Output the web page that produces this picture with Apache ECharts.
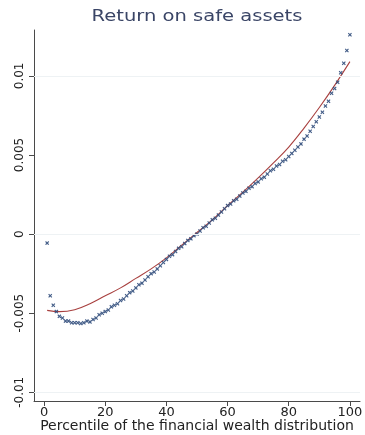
<!DOCTYPE html>
<html>
<head>
<meta charset="utf-8">
<script src="https://cdn.jsdelivr.net/npm/echarts@6/dist/echarts.min.js"></script>
<style>
  html, body { margin: 0; padding: 0; background: #ffffff; }
  #chart { width: 365px; height: 435px; }
</style>
</head>
<body>
<div id="chart"></div>
<script>
// Mean return on safe assets by percentile of financial wealth (1..100)
const safeReturn = [
  -0.00057, -0.0039, -0.0045, -0.0049, -0.0052, -0.0053, -0.0055, -0.0055, -0.0056, -0.0056,
  -0.0056, -0.00565, -0.0056, -0.0055, -0.00555, -0.0054, -0.0053, -0.0051, -0.0050, -0.0049,
  -0.0048, -0.0046, -0.0045, -0.0044, -0.0042, -0.0041, -0.0039, -0.0037, -0.0036, -0.0034,
  -0.0032, -0.0031, -0.0029, -0.0027, -0.0025, -0.0024, -0.0022, -0.0020, -0.0018, -0.0016,
  -0.0014, -0.0013, -0.0011, -0.0009, -0.0008, -0.0006, -0.0004, -0.0003, -0.0001, 0.0000,
  0.0002, 0.0004, 0.0005, 0.0007, 0.0009, 0.0010, 0.0012, 0.0014, 0.0016, 0.0018,
  0.0019, 0.0021, 0.0022, 0.0024, 0.0026, 0.0027, 0.0029, 0.0030, 0.0032, 0.0033,
  0.0035, 0.0036, 0.0038, 0.0040, 0.0041, 0.0043, 0.0044, 0.0046, 0.0047, 0.0049,
  0.0051, 0.0053, 0.0055, 0.0057, 0.0060, 0.0062, 0.0065, 0.0068, 0.0071, 0.0074,
  0.0077, 0.0081, 0.0084, 0.0089, 0.0092, 0.0096, 0.0102, 0.0108, 0.0116, 0.0126
];

// Fitted curve, sampled along the percentile axis
const fitPercentiles = [1, 5, 10, 15, 20, 25, 30, 35, 40, 45, 50, 55, 60, 65, 70, 75, 80, 85, 90, 95, 100];
const fitValues = [
  -0.00482, -0.0049, -0.00478, -0.0044, -0.0039, -0.0034, -0.0028, -0.0022, -0.0015, -0.0007,
  0.0001, 0.0009, 0.0018, 0.00265, 0.00355, 0.0045, 0.0055, 0.0067, 0.0080, 0.0094, 0.0109
];

// Axis ticks and labels
const xTicks = [0, 20, 40, 60, 80, 100];
const yTicks = [-0.01, -0.005, 0, 0.005, 0.01];
const yTickLabels = ['-0.01', '-0.005', '0', '0.005', '0.01'];
const yGridLines = [-0.005, 0, 0.005, 0.01];

const chartTitle = 'Return on safe assets';
const xTitle = 'Percentile of the financial wealth distribution';

const scatterData = safeReturn.map((v, i) => [i + 1, v]);
const fitData = fitPercentiles.map((p, i) => [p, fitValues[i]]);

const crossSymbol = 'path://M0,2L2,0L5,3L8,0L10,2L7,5L10,8L8,10L5,7L2,10L0,8L3,5Z';
const axisColor = '#4a4a4a';
const labelFont = '"DejaVu Sans", "Liberation Sans", sans-serif';

const chart = echarts.init(document.getElementById('chart'), null, { renderer: 'canvas' });

chart.setOption({
  backgroundColor: '#ffffff',
  animation: false,
  graphic: [{
    type: 'text',
    x: 197,
    y: 17,
    scaleX: 1.22,
    style: {
      text: chartTitle,
      font: '16px "DejaVu Sans", sans-serif',
      fill: '#3a4566',
      align: 'center',
      verticalAlign: 'middle'
    }
  }],
  grid: { left: 34, right: 5, top: 30, bottom: 34, containLabel: false, outerBoundsMode: 'none' },
  xAxis: {
    type: 'value',
    min: -3.3,
    max: 103.3,
    name: xTitle,
    nameLocation: 'middle',
    nameGap: 18,
    nameMoveOverlap: false,
    nameTextStyle: { fontFamily: labelFont, fontSize: 14, color: '#222', verticalAlign: 'top' },
    axisLine: { show: true, onZero: false, lineStyle: { color: axisColor, width: 1 } },
    axisTick: { show: true, length: 5, customValues: xTicks, lineStyle: { color: axisColor } },
    axisLabel: {
      customValues: xTicks,
      fontFamily: labelFont,
      fontSize: 13,
      color: '#222',
      margin: 5
    },
    splitLine: { show: false }
  },
  yAxis: {
    type: 'value',
    min: -0.01055,
    max: 0.0129,
    axisLine: { show: true, onZero: false, lineStyle: { color: axisColor, width: 1 } },
    axisTick: { show: true, length: 5, customValues: yTicks, lineStyle: { color: axisColor } },
    axisLabel: {
      customValues: yTicks,
      rotate: 90,
      fontFamily: labelFont,
      fontSize: 12,
      color: '#222',
      margin: 8,
      formatter: function (v) {
        let idx = 0, best = Infinity;
        yTicks.forEach((t, i) => { const d = Math.abs(t - v); if (d < best) { best = d; idx = i; } });
        return yTickLabels[idx];
      }
    },
    splitLine: { show: false }
  },
  series: [
    {
      type: 'line',
      data: fitData,
      smooth: 0.4,
      showSymbol: false,
      lineStyle: { color: '#a8403f', width: 1.1 },
      z: 2,
      markLine: {
        silent: true,
        symbol: 'none',
        label: { show: false },
        lineStyle: { color: '#eef2f4', width: 1, type: 'solid' },
        data: yGridLines.map(v => ({ yAxis: v }))
      }
    },
    {
      type: 'scatter',
      data: scatterData,
      symbol: crossSymbol,
      symbolSize: 4,
      itemStyle: { color: '#2e4a7a', opacity: 0.9 },
      z: 3
    }
  ]
});
</script>
</body>
</html>
